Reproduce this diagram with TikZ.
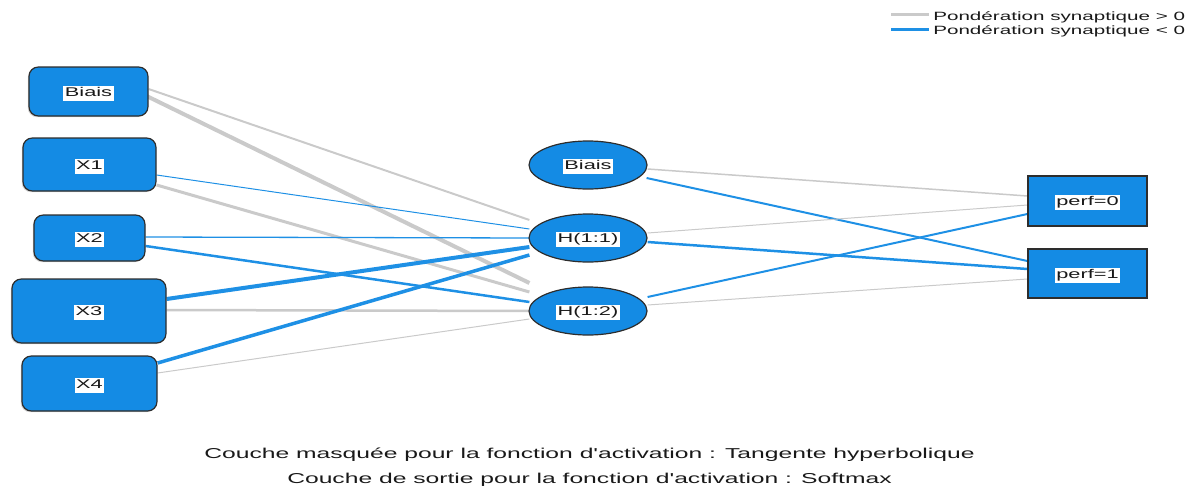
\documentclass[tikz,border=0pt]{standalone}
\usepackage{fontspec}
\setmainfont{Liberation Sans}
\newfontfamily\arialw[FakeStretch=1.72]{Liberation Sans}
\usetikzlibrary{shapes.geometric,calc,backgrounds,shadows}
\definecolor{nodeblue}{RGB}{20,139,228}
\definecolor{lineblue}{RGB}{30,144,229}
\definecolor{linegray}{RGB}{202,202,202}
\definecolor{edgedark}{RGB}{45,45,45}
\definecolor{txt}{RGB}{25,25,25}
\newcommand{\lbw}[1]{{\setlength{\fboxsep}{1.2pt}\raisebox{-3.6pt}[0pt][0pt]{\colorbox{white}{\vphantom{(}#1}}}}
\tikzset{
  x=0.75pt, y=-0.75pt,
  lblfont/.style={font=\arialw\fontsize{9.5pt}{10pt}\selectfont, text=txt},
  inbox/.style={lblfont, rectangle, rounded corners=7pt, fill=nodeblue, draw=edgedark, line width=0.9pt, inner sep=0pt,
     drop shadow={shadow xshift=-0.9pt, shadow yshift=-0.9pt, opacity=0.35}},
  hidnode/.style={lblfont, ellipse, fill=nodeblue, draw=edgedark, line width=0.9pt, inner sep=0pt,
     minimum width=88.5pt, minimum height=36pt},
  outbox/.style={lblfont, rectangle, fill=nodeblue, draw=edgedark, line width=0.9pt, inner sep=0pt,
     minimum width=89.25pt,
     drop shadow={shadow xshift=0.9pt, shadow yshift=-0.9pt, opacity=0.35}},
  pos/.style={draw=linegray, line width=#1*0.75pt},
  neg/.style={draw=lineblue, line width=#1*0.75pt},
  legtext/.style={font=\arialw\fontsize{9pt}{10pt}\selectfont, text=txt, anchor=base west, inner sep=0pt},
  captext/.style={font=\arialw\fontsize{10.75pt}{12pt}\selectfont, text=txt, anchor=base, inner sep=0pt}
}
\begin{document}
\begin{tikzpicture}
\useasboundingbox (0,0) rectangle (1189,489);
% input layer
\node[inbox, minimum width=89.25pt, minimum height=36.75pt] (iB) at (88.5,91.5) {\lbw{Biais}};
\node[inbox, minimum width=99.75pt, minimum height=39.75pt] (iX1) at (89.5,164.5) {\lbw{X1}};
\node[inbox, minimum width=83.25pt, minimum height=34.5pt] (iX2) at (89.5,238) {\lbw{X2}};
\node[inbox, minimum width=115.5pt, minimum height=48pt] (iX3) at (89,311) {\lbw{X3}};
\node[inbox, minimum width=101.25pt, minimum height=41.25pt] (iX4) at (89.5,383.5) {\lbw{X4}};
% hidden layer
\node[hidnode] (hB) at (588,165) {\lbw{Biais}};
\node[hidnode] (h1) at (588,238) {\lbw{H(1:1)}};
\node[hidnode] (h2) at (588,311) {\lbw{H(1:2)}};
% output layer
\node[outbox, minimum height=37.5pt] (o0) at (1087.5,201) {\lbw{perf=0}};
\node[outbox, minimum height=36.75pt] (o1) at (1087.5,273.5) {\lbw{perf=1}};
\begin{scope}[on background layer]
% input -> hidden
\draw[pos=2]   ($(iB.east)+(0,-2.5)$) -- ($(h1.west)+(1,-18)$);
\draw[pos=4]   ($(iB.east)+(-2,4.5)$) -- ($(h2.west)+(1,-28)$);
\draw[neg=1]   ($(iX1.east)+(0,10.5)$) -- ($(h1.west)+(1,-9)$);
\draw[pos=3]   ($(iX1.east)+(0,20.5)$) -- ($(h2.west)+(1,-19)$);
\draw[neg=1.3] ($(iX2.east)+(0,-1)$) -- ($(h1.west)+(1,0)$);
\draw[neg=2.5] ($(iX2.east)+(0,8)$) -- ($(h2.west)+(1,-9)$);
\draw[neg=4]   ($(iX3.east)+(0,-12)$) -- ($(h1.west)+(1,9)$);
\draw[pos=2.5] ($(iX3.east)+(0,-1)$) -- ($(h2.west)+(1,0)$);
\draw[neg=3.5] ($(iX4.east)+(0,-20.5)$) -- ($(h1.west)+(1,17)$);
\draw[pos=1]   ($(iX4.east)+(0,-10.5)$) -- ($(h2.west)+(1,8)$);
% hidden -> output
\draw[pos=1.5] ($(hB.east)+(0,4)$) -- ($(o0.west)+(0,-5)$);
\draw[neg=2]   ($(hB.east)+(-1,13)$) -- ($(o1.west)+(0,-12.5)$);
\draw[pos=1]   ($(h1.east)+(0,-5)$) -- ($(o0.west)+(0,4)$);
\draw[neg=2.5] ($(h1.east)+(0,4)$) -- ($(o1.west)+(0,-4.5)$);
\draw[neg=2]   ($(h2.east)+(0,-14)$) -- ($(o0.west)+(0,13)$);
\draw[pos=1]   ($(h2.east)+(0,-6)$) -- ($(o1.west)+(0,5.5)$);
\end{scope}
% legend
\coordinate (lg1a) at (891,14.5);
\coordinate (lg1b) at (929,14.5);
\coordinate (lg2a) at (891,29.5);
\coordinate (lg2b) at (929,29.5);
\draw[pos=3] (lg1a) -- (lg1b);
\draw[neg=3] (lg2a) -- (lg2b);
\node[legtext] (lt1) at (933,20) {Pondération synaptique > 0};
\node[legtext] (lt2) at (933,34) {Pondération synaptique < 0};
% captions
\node[captext] (cap1) at (589.5,458) {Couche masquée pour la fonction d'activation : Tangente hyperbolique};
\node[captext] (cap2) at (589.5,483) {Couche de sortie pour la fonction d'activation : Softmax};
\end{tikzpicture}
\end{document}
